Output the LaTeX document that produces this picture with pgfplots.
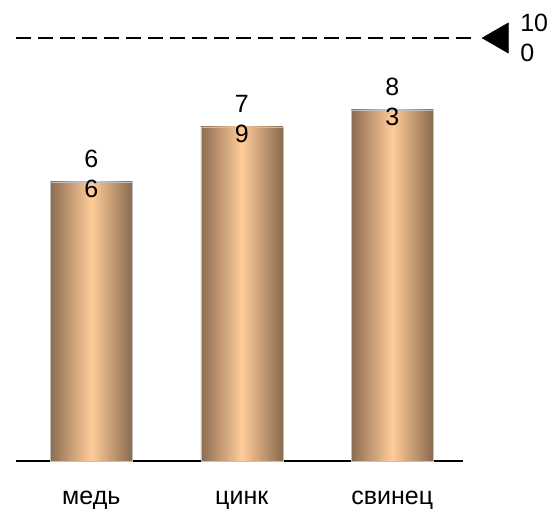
\documentclass[border=0pt]{standalone}
\usepackage{pgfplots}
\pgfplotsset{compat=1.18}
\usepackage{fontspec}
\setmainfont{Liberation Sans}
\definecolor{brL}{HTML}{8C6C50}
\definecolor{brM}{HTML}{FFCC99}
\definecolor{brR}{HTML}{8A6A4E}
\def\lbla{6\\6}\def\lblb{7\\9}\def\lblc{8\\3}\def\lbld{10\\0}
\newcommand\lblfont{\fontsize{25}{30}\selectfont}
\pgfplotsset{cylbar/.style={ybar, bar width=82pt, bar shift=0pt, left color=brL, right color=brR, middle color=brM, draw=black!25, line width=0.5pt,
  point meta=explicit symbolic, nodes near coords={\csname lbl\pgfplotspointmeta\endcsname},
  every node near coord/.append style={anchor=center, align=center, font=\lblfont, yshift=7.7pt, text=black}}}
\begin{document}
\begin{tikzpicture}
\path[use as bounding box] (0,0) rectangle (550pt,510pt);
\begin{axis}[at={(16pt,49pt)}, anchor=south west, scale only axis, width=447pt, height=423pt,
 xmin=-0.5, xmax=2.47, ymin=0, ymax=100, clip=false,
 axis x line=bottom, axis y line=none, x axis line style={-, line width=1.3pt},
 xtick={0,1,2}, xticklabels={медь,цинк,свинец}, major tick length=0pt, xtick style={draw=none},
 xticklabel style={font=\lblfont, anchor=base, yshift=-44pt},
 ytick=\empty]
\addplot[cylbar] coordinates {(0,66) [a]};
\addplot[cylbar] coordinates {(1,79) [b]};
\addplot[cylbar] coordinates {(2,83) [c]};
\addplot[black, dash pattern=on 15pt off 7pt, line width=1.3pt, mark=none] coordinates {(-0.5,100) (2.537,100)};
\addplot[only marks, mark=triangle*, mark size=17.5pt, mark options={rotate=90, fill=black, draw=black, solid},
  point meta=explicit symbolic, nodes near coords={\csname lbl\pgfplotspointmeta\endcsname},
  every node near coord/.append style={anchor=west, align=left, font=\lblfont, inner sep=0pt, xshift=20.5pt, text=black}]
 coordinates {(2.713,100) [d]};
\end{axis}
\end{tikzpicture}
\end{document}
